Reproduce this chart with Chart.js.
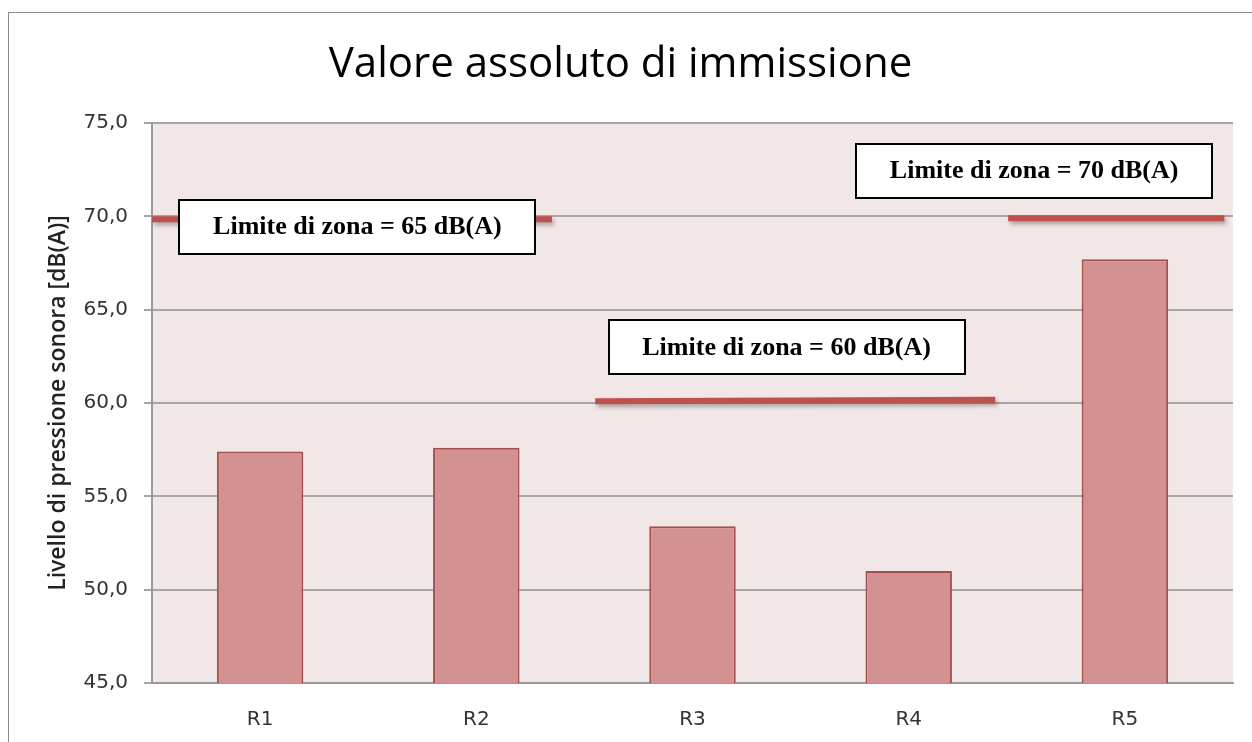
<!DOCTYPE html>
<html>
<head>
<meta charset="utf-8">
<script src="https://cdn.jsdelivr.net/npm/chart.js@4.4.1/dist/chart.umd.min.js"></script>
<style>
  html, body { margin: 0; padding: 0; background: #fff; }
  #wrap { width: 1252px; height: 742px; position: relative; }
</style>
</head>
<body>
<div id="wrap"><canvas id="chart" width="1252" height="742"></canvas></div>
<script>
const categories = ["R1", "R2", "R3", "R4", "R5"];
const levels = [57.4, 57.6, 53.4, 51.0, 67.7];
const yTicks = [45, 50, 55, 60, 65, 70, 75];

// limit segments, x in category units (0..5 across the plot)
const limitNames = ["Limite di zona = 65 dB(A)", "Limite di zona = 60 dB(A)", "Limite di zona = 70 dB(A)"];
const limitXStart = [0, 2.05, 3.96];
const limitXEnd = [1.85, 3.9, 4.96];
const limitYStart = [69.85, 60.1, 69.9];
const limitYEnd = [69.85, 60.17, 69.9];

// where each label box sits (category units / dB)
const boxX = [0.95, 2.935, 4.08];
const boxY = [69.45, 63.0, 72.45];

const RED = "#c0504d";

const limitSets = limitNames.map((name, i) => ({
  type: "line",
  label: name,
  xAxisID: "x2",
  yAxisID: "y",
  data: [{ x: limitXStart[i], y: limitYStart[i] }, { x: limitXEnd[i], y: limitYEnd[i] }],
  borderColor: RED,
  borderWidth: 6,
  borderCapStyle: "butt",
  pointRadius: 0,
  fill: false,
  order: 0,
}));

const frame = {
  id: "frame",
  beforeDraw(chart) {
    const { ctx, chartArea: a } = chart;
    ctx.save();
    ctx.fillStyle = "#fff";
    ctx.fillRect(0, 0, chart.width, chart.height);
    ctx.strokeStyle = "#8c8c8c";
    ctx.lineWidth = 1;
    ctx.strokeRect(8.5, 12.5, chart.width + 10, chart.height + 10);
    ctx.fillStyle = "#f2e7e7";
    ctx.fillRect(a.left, a.top, a.right - a.left, a.bottom - a.top);
    ctx.restore();
  },
  beforeDatasetDraw(chart, args) {
    if (args.meta.type !== "line") return;
    const ctx = chart.ctx;
    ctx.save();
    ctx.shadowColor = "rgba(0,0,0,0.3)";
    ctx.shadowBlur = 4;
    ctx.shadowOffsetX = 2;
    ctx.shadowOffsetY = 3;
  },
  afterDatasetDraw(chart, args) {
    if (args.meta.type !== "line") return;
    chart.ctx.restore();
  },
  afterDatasetsDraw(chart) {
    const { ctx, scales } = chart;
    const w = 356, h = 54;
    ctx.save();
    limitNames.forEach((name, i) => {
      const cx = scales.x2.getPixelForValue(boxX[i]);
      const cy = scales.y.getPixelForValue(boxY[i]);
      const x = Math.round(cx - w / 2), y = Math.round(cy - h / 2);
      ctx.fillStyle = "#fff";
      ctx.fillRect(x, y, w, h);
      ctx.strokeStyle = "#000";
      ctx.lineWidth = 2;
      ctx.strokeRect(x, y, w, h);
      ctx.fillStyle = "#000";
      ctx.font = "bold 26px 'Liberation Serif', 'Times New Roman', serif";
      ctx.textAlign = "center";
      ctx.textBaseline = "middle";
      ctx.fillText(name, cx, cy + 1);
    });
    ctx.restore();
  }
};

new Chart(document.getElementById("chart"), {
  type: "bar",
  data: {
    labels: categories,
    datasets: [
      {
        label: "Livello",
        data: levels,
        xAxisID: "x",
        yAxisID: "y",
        backgroundColor: "#d39192",
        borderColor: "#a34f4f",
        borderWidth: 2,
        barPercentage: 0.4,
        categoryPercentage: 1,
        grouped: false,
        order: 1,
      },
      ...limitSets,
    ]
  },
  options: {
    responsive: false,
    animation: false,
    devicePixelRatio: 1,
    layout: { padding: { left: 8, right: 19, top: 12, bottom: 0 } },
    plugins: {
      legend: { display: false },
      tooltip: { enabled: false },
      title: {
        display: true,
        text: "Valore assoluto di immissione",
        color: "#000",
        font: { size: 42, family: "'Open Sans', sans-serif", weight: "normal", lineHeight: 1.2 },
        padding: { top: 28, bottom: 32.6 },
      },
    },
    scales: {
      x: {
        type: "category",
        grid: { display: false, drawTicks: false },
        border: { display: true, color: "#9a9a9a", width: 2 },
        ticks: { color: "#333", padding: 25, font: { size: 20, family: "'DejaVu Sans', sans-serif" } },
        afterFit(s) { s.height = 59; },
      },
      x2: {
        type: "linear",
        display: false,
        offset: false,
        min: 0,
        max: 5,
      },
      y: {
        min: yTicks[0],
        max: yTicks[yTicks.length - 1],
        afterBuildTicks(s) { s.ticks = yTicks.map(v => ({ value: v })); },
        grid: { color: "#a6a6a6", lineWidth: 2, tickLength: 8, drawTicks: true },
        border: { display: true, color: "#9a9a9a", width: 2 },
        ticks: {
          color: "#333",
          padding: 16,
          font: { size: 20, family: "'DejaVu Sans', sans-serif" },
          callback: v => v.toFixed(1).replace(".", ","),
        },
        title: {
          display: true,
          text: "Livello di pressione sonora [dB(A)]",
          color: "#222",
          font: { size: 23, family: "'Open Sans', sans-serif", weight: "600" },
          padding: { top: 37, bottom: 0 },
        },
        afterFit(s) { s.width = 144; },
      },
    },
  },
  plugins: [frame],
});
</script>
</body>
</html>
